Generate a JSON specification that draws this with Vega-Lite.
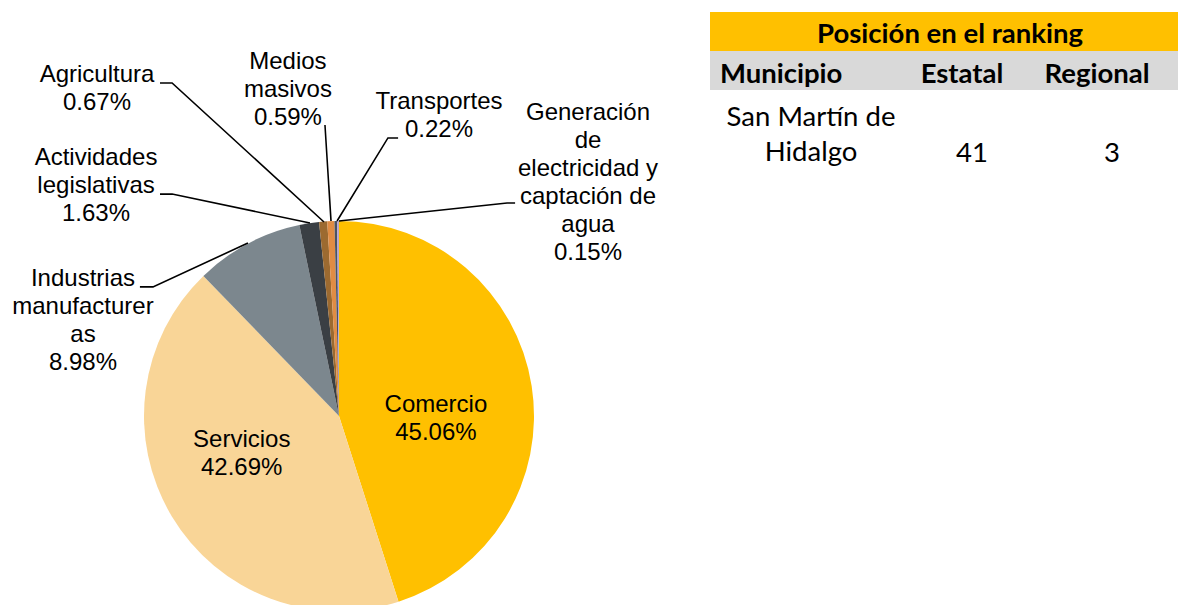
{
  "$schema": "https://vega.github.io/schema/vega-lite/v6.json",
  "autosize": {"type": "fit", "contains": "padding"},
  "width": 1178,
  "height": 605,
  "padding": 0,
  "background": "white",
  "config": {"view": {"stroke": null}},
  "datasets": {
    "sectores": [
      {"sector": "Comercio", "porcentaje": 45.06, "orden": 1},
      {"sector": "Servicios", "porcentaje": 42.69, "orden": 2},
      {"sector": "Industrias manufactureras", "porcentaje": 8.98, "orden": 3},
      {"sector": "Actividades legislativas", "porcentaje": 1.63, "orden": 4},
      {"sector": "Agricultura", "porcentaje": 0.67, "orden": 5},
      {"sector": "Medios masivos", "porcentaje": 0.59, "orden": 6},
      {"sector": "Transportes", "porcentaje": 0.22, "orden": 7},
      {"sector": "Generación de electricidad y captación de agua", "porcentaje": 0.15, "orden": 8}
    ],
    "etiquetas": [
      {"sector": "Comercio", "texto": "Comercio\n45.06%", "lx": 0.497, "ly": 0.056},
      {"sector": "Servicios", "texto": "Servicios\n42.69%", "lx": -0.499, "ly": -0.123},
      {"sector": "Industrias manufactureras", "texto": "Industrias\nmanufacturer\nas\n8.98%", "lx": -1.313, "ly": 0.703},
      {"sector": "Actividades legislativas", "texto": "Actividades\nlegislativas\n1.63%", "lx": -1.246, "ly": 1.323},
      {"sector": "Agricultura", "texto": "Agricultura\n0.67%", "lx": -1.241, "ly": 1.749},
      {"sector": "Medios masivos", "texto": "Medios\nmasivos\n0.59%", "lx": -0.262, "ly": 1.815},
      {"sector": "Transportes", "texto": "Transportes\n0.22%", "lx": 0.513, "ly": 1.61},
      {"sector": "Generación de electricidad y captación de agua", "texto": "Generación\nde\nelectricidad y\ncaptación de\nagua\n0.15%", "lx": 1.277, "ly": 1.554}
    ],
    "guias": [
      {"sector": "Industrias manufactureras", "paso": 1, "gx": -1.021, "gy": 0.662},
      {"sector": "Industrias manufactureras", "paso": 2, "gx": -0.954, "gy": 0.662},
      {"sector": "Industrias manufactureras", "paso": 3, "gx": -0.467, "gy": 0.887},
      {"sector": "Actividades legislativas", "paso": 1, "gx": -0.918, "gy": 1.138},
      {"sector": "Actividades legislativas", "paso": 2, "gx": -0.856, "gy": 1.138},
      {"sector": "Actividades legislativas", "paso": 3, "gx": -0.149, "gy": 0.99},
      {"sector": "Agricultura", "paso": 1, "gx": -0.918, "gy": 1.708},
      {"sector": "Agricultura", "paso": 2, "gx": -0.856, "gy": 1.708},
      {"sector": "Agricultura", "paso": 3, "gx": -0.077, "gy": 0.995},
      {"sector": "Medios masivos", "paso": 1, "gx": -0.072, "gy": 1.492},
      {"sector": "Medios masivos", "paso": 2, "gx": -0.041, "gy": 1.0},
      {"sector": "Transportes", "paso": 1, "gx": 0.303, "gy": 1.426},
      {"sector": "Transportes", "paso": 2, "gx": 0.251, "gy": 1.426},
      {"sector": "Transportes", "paso": 3, "gx": -0.01, "gy": 1.0},
      {"sector": "Generación de electricidad y captación de agua", "paso": 1, "gx": 0.903, "gy": 1.092},
      {"sector": "Generación de electricidad y captación de agua", "paso": 2, "gx": 0.862, "gy": 1.092},
      {"sector": "Generación de electricidad y captación de agua", "paso": 3, "gx": 0.0, "gy": 1.0}
    ],
    "celdas": [
      {"fila": "titulo", "columna": "Municipio"},
      {"fila": "titulo", "columna": "Estatal"},
      {"fila": "titulo", "columna": "Regional"},
      {"fila": "encabezado", "columna": "Municipio"},
      {"fila": "encabezado", "columna": "Estatal"},
      {"fila": "encabezado", "columna": "Regional"}
    ],
    "tabla": [
      {"fila": "encabezado", "columna": "Municipio", "texto": "Municipio"},
      {"fila": "encabezado", "columna": "Estatal", "texto": "Estatal"},
      {"fila": "encabezado", "columna": "Regional", "texto": "Regional"},
      {"fila": "datos", "columna": "Municipio", "texto": "San Martín de\nHidalgo"},
      {"fila": "datos", "columna": "Estatal", "texto": "41"},
      {"fila": "datos", "columna": "Regional", "texto": "3"}
    ]
  },
  "layer": [
    {
      "layer": [
        {
          "data": {"name": "sectores"},
          "mark": {"type": "arc", "outerRadius": 195, "clip": true},
          "encoding": {
            "x": {"datum": 0, "type": "quantitative", "scale": {"type": "linear", "domain": [-1.7385, 4.3026], "nice": false, "zero": false}, "axis": null},
            "y": {"datum": 0, "type": "quantitative", "scale": {"type": "linear", "domain": [-0.9692, 2.1333], "nice": false, "zero": false}, "axis": null},
            "theta": {"field": "porcentaje", "type": "quantitative", "stack": true},
            "order": {"field": "orden", "type": "quantitative", "sort": "ascending"},
            "color": {
              "field": "sector", "type": "nominal", "legend": null,
              "scale": {
                "domain": ["Comercio", "Servicios", "Industrias manufactureras", "Actividades legislativas", "Agricultura", "Medios masivos", "Transportes", "Generación de electricidad y captación de agua"],
                "range": ["#FFC000", "#F9D597", "#7C878E", "#3A3F44", "#9C6A30", "#E08C44", "#4A5363", "#B9A3CC"]
              }
            }
          }
        },
        {
          "data": {"name": "guias"},
          "mark": {"type": "line", "color": "black", "strokeWidth": 1.6},
          "encoding": {
            "x": {"field": "gx", "type": "quantitative", "scale": {"type": "linear", "domain": [-1.7385, 4.3026], "nice": false, "zero": false}, "axis": null},
            "y": {"field": "gy", "type": "quantitative", "scale": {"type": "linear", "domain": [-0.9692, 2.1333], "nice": false, "zero": false}, "axis": null},
            "detail": {"field": "sector", "type": "nominal"},
            "order": {"field": "paso", "type": "quantitative"}
          }
        },
        {
          "data": {"name": "etiquetas"},
          "mark": {"type": "text", "font": "Liberation Sans", "fontSize": 24, "lineHeight": 28, "lineBreak": "\n", "align": "center", "baseline": "middle", "color": "black"},
          "encoding": {
            "x": {"field": "lx", "type": "quantitative", "scale": {"type": "linear", "domain": [-1.7385, 4.3026], "nice": false, "zero": false}, "axis": null},
            "y": {"field": "ly", "type": "quantitative", "scale": {"type": "linear", "domain": [-0.9692, 2.1333], "nice": false, "zero": false}, "axis": null},
            "text": {"field": "texto", "type": "nominal"}
          }
        }
      ]
    },
    {
      "layer": [
        {
          "data": {"name": "celdas"},
          "mark": {"type": "rect"},
          "encoding": {
            "x": {"field": "columna", "type": "nominal", "scale": {"type": "band", "domain": ["Municipio", "Estatal", "Regional"], "range": [710, 1178], "paddingInner": 0, "paddingOuter": 0}, "axis": null},
            "y": {"field": "fila", "type": "nominal", "scale": {"type": "band", "domain": ["titulo", "encabezado", "datos"], "range": [12, 129], "paddingInner": 0, "paddingOuter": 0}, "axis": null},
            "color": {"field": "fila", "type": "nominal", "legend": null, "scale": {"domain": ["titulo", "encabezado"], "range": ["#FFC000", "#D9D9D9"]}}
          }
        },
        {
          "data": {"values": [{"titulo": "Posición en el ranking"}]},
          "mark": {"type": "text", "font": "Lato", "fontWeight": "bold", "fontSize": 27.5, "align": "center", "baseline": "middle", "dx": 6, "dy": 3.5, "color": "black"},
          "encoding": {
            "x": {"datum": "Estatal", "type": "nominal", "scale": {"type": "band", "domain": ["Municipio", "Estatal", "Regional"], "range": [710, 1178], "paddingInner": 0, "paddingOuter": 0}, "axis": null},
            "y": {"datum": "titulo", "type": "nominal", "scale": {"type": "band", "domain": ["titulo", "encabezado", "datos"], "range": [12, 129], "paddingInner": 0, "paddingOuter": 0}, "axis": null},
            "text": {"field": "titulo", "type": "nominal"}
          }
        },
        {
          "data": {"name": "tabla"},
          "transform": [{"filter": "datum.fila == 'encabezado' && datum.columna == 'Municipio'"}],
          "mark": {"type": "text", "font": "Lato", "fontWeight": "bold", "fontSize": 27.5, "align": "left", "baseline": "middle", "dx": -68, "dy": 4.5, "color": "black"},
          "encoding": {
            "x": {"field": "columna", "type": "nominal", "scale": {"type": "band", "domain": ["Municipio", "Estatal", "Regional"], "range": [710, 1178], "paddingInner": 0, "paddingOuter": 0}, "axis": null},
            "y": {"field": "fila", "type": "nominal", "scale": {"type": "band", "domain": ["titulo", "encabezado", "datos"], "range": [12, 129], "paddingInner": 0, "paddingOuter": 0}, "axis": null},
            "text": {"field": "texto", "type": "nominal"}
          }
        },
        {
          "data": {"name": "tabla"},
          "transform": [{"filter": "datum.fila == 'encabezado' && datum.columna == 'Estatal'"}],
          "mark": {"type": "text", "font": "Lato", "fontWeight": "bold", "fontSize": 27.5, "align": "center", "baseline": "middle", "dx": 18, "dy": 4.5, "color": "black"},
          "encoding": {
            "x": {"field": "columna", "type": "nominal", "scale": {"type": "band", "domain": ["Municipio", "Estatal", "Regional"], "range": [710, 1178], "paddingInner": 0, "paddingOuter": 0}, "axis": null},
            "y": {"field": "fila", "type": "nominal", "scale": {"type": "band", "domain": ["titulo", "encabezado", "datos"], "range": [12, 129], "paddingInner": 0, "paddingOuter": 0}, "axis": null},
            "text": {"field": "texto", "type": "nominal"}
          }
        },
        {
          "data": {"name": "tabla"},
          "transform": [{"filter": "datum.fila == 'encabezado' && datum.columna == 'Regional'"}],
          "mark": {"type": "text", "font": "Lato", "fontWeight": "bold", "fontSize": 27.5, "align": "center", "baseline": "middle", "dx": -3, "dy": 4.5, "color": "black"},
          "encoding": {
            "x": {"field": "columna", "type": "nominal", "scale": {"type": "band", "domain": ["Municipio", "Estatal", "Regional"], "range": [710, 1178], "paddingInner": 0, "paddingOuter": 0}, "axis": null},
            "y": {"field": "fila", "type": "nominal", "scale": {"type": "band", "domain": ["titulo", "encabezado", "datos"], "range": [12, 129], "paddingInner": 0, "paddingOuter": 0}, "axis": null},
            "text": {"field": "texto", "type": "nominal"}
          }
        },
        {
          "data": {"name": "tabla"},
          "transform": [{"filter": "datum.fila == 'datos' && datum.columna == 'Municipio'"}],
          "mark": {"type": "text", "font": "Lato", "fontSize": 27.5, "lineHeight": 35, "lineBreak": "\n", "align": "center", "baseline": "middle", "dx": 23, "dy": 8.5, "color": "black"},
          "encoding": {
            "x": {"field": "columna", "type": "nominal", "scale": {"type": "band", "domain": ["Municipio", "Estatal", "Regional"], "range": [710, 1178], "paddingInner": 0, "paddingOuter": 0}, "axis": null},
            "y": {"field": "fila", "type": "nominal", "scale": {"type": "band", "domain": ["titulo", "encabezado", "datos"], "range": [12, 129], "paddingInner": 0, "paddingOuter": 0}, "axis": null},
            "text": {"field": "texto", "type": "nominal"}
          }
        },
        {
          "data": {"name": "tabla"},
          "transform": [{"filter": "datum.fila == 'datos' && datum.columna == 'Estatal'"}],
          "mark": {"type": "text", "font": "Lato", "fontSize": 27.5, "align": "center", "baseline": "middle", "dx": 28, "dy": 44.5, "color": "black"},
          "encoding": {
            "x": {"field": "columna", "type": "nominal", "scale": {"type": "band", "domain": ["Municipio", "Estatal", "Regional"], "range": [710, 1178], "paddingInner": 0, "paddingOuter": 0}, "axis": null},
            "y": {"field": "fila", "type": "nominal", "scale": {"type": "band", "domain": ["titulo", "encabezado", "datos"], "range": [12, 129], "paddingInner": 0, "paddingOuter": 0}, "axis": null},
            "text": {"field": "texto", "type": "nominal"}
          }
        },
        {
          "data": {"name": "tabla"},
          "transform": [{"filter": "datum.fila == 'datos' && datum.columna == 'Regional'"}],
          "mark": {"type": "text", "font": "Lato", "fontSize": 27.5, "align": "center", "baseline": "middle", "dx": 12, "dy": 44.5, "color": "black"},
          "encoding": {
            "x": {"field": "columna", "type": "nominal", "scale": {"type": "band", "domain": ["Municipio", "Estatal", "Regional"], "range": [710, 1178], "paddingInner": 0, "paddingOuter": 0}, "axis": null},
            "y": {"field": "fila", "type": "nominal", "scale": {"type": "band", "domain": ["titulo", "encabezado", "datos"], "range": [12, 129], "paddingInner": 0, "paddingOuter": 0}, "axis": null},
            "text": {"field": "texto", "type": "nominal"}
          }
        }
      ]
    }
  ],
  "resolve": {"scale": {"x": "independent", "y": "independent", "color": "independent"}}
}
